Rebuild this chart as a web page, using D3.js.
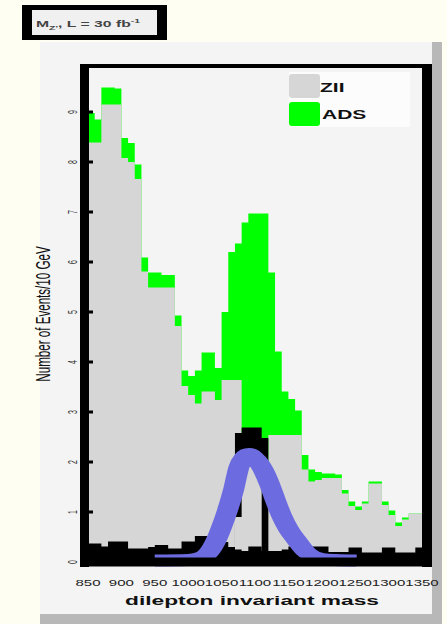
<!DOCTYPE html>
<html>
<head>
<meta charset="utf-8">
<script src="https://cdn.jsdelivr.net/npm/d3@7/dist/d3.min.js"></script>
<style>
  html, body { margin: 0; padding: 0; background: #fffef3; }
  svg { display: block; }
  text { font-family: "Liberation Sans", Arial, Helvetica, sans-serif; }
</style>
</head>
<body>
<svg id="chart" width="447" height="624"></svg>
<script>
// 10 GeV bins from 850 to 1350 GeV (lower edges)
const binEdges = [850, 860, 870, 880, 890, 900, 910, 920, 930, 940,
                  950, 960, 970, 980, 990, 1000, 1010, 1020, 1030, 1040,
                  1050, 1060, 1070, 1080, 1090, 1100, 1110, 1120, 1130, 1140,
                  1150, 1160, 1170, 1180, 1190, 1200, 1210, 1220, 1230, 1240,
                  1250, 1260, 1270, 1280, 1290, 1300, 1310, 1320, 1330, 1340];

// Events per bin, ADS (top of the stack)
const adsValues = [8.98, 8.85, 9.49, 9.49, 9.47, 8.48, 8.38, 7.95, 6.09, 5.79,
                   5.79, 5.74, 5.74, 4.93, 3.83, 3.72, 3.83, 4.19, 4.19, 3.88,
                   5.00, 6.20, 6.37, 6.79, 6.97, 6.97, 6.97, 5.79, 4.21, 3.41,
                   3.26, 3.03, 2.14, 1.85, 1.80, 1.77, 1.77, 1.75, 1.44, 1.21,
                   1.11, 1.21, 1.61, 1.61, 1.21, 1.03, 0.79, 0.89, 0.97, 0.97];

// Events per bin, ZII
const zllValues = [8.39, 8.39, 9.15, 9.15, 9.15, 8.08, 8.00, 7.66, 5.81, 5.49,
                   5.49, 5.49, 5.49, 4.72, 3.52, 3.34, 3.17, 3.41, 3.41, 3.24,
                   3.64, 3.64, 3.64, 2.00, 2.00, 2.00, 2.00, 2.54, 2.54, 2.54,
                   2.54, 2.54, 1.85, 1.61, 1.64, 1.68, 1.68, 1.68, 1.37, 1.12,
                   1.04, 1.17, 1.57, 1.57, 1.14, 0.94, 0.72, 0.85, 0.97, 0.97];

// Events per bin, Standard Model background
const bkgValues = [0.37, 0.37, 0.31, 0.41, 0.41, 0.41, 0.27, 0.27, 0.27, 0.30,
                   0.34, 0.34, 0.27, 0.27, 0.41, 0.41, 0.52, 0.52, 0.52, 0.45,
                   0.40, 0.30, 0.25, 0.22, 0.31, 0.31, 0.22, 0.22, 0.22, 0.25,
                   0.31, 0.31, 0.31, 0.31, 0.31, 0.31, 0.20, 0.20, 0.20, 0.29,
                   0.29, 0.19, 0.19, 0.19, 0.29, 0.29, 0.19, 0.19, 0.19, 0.29];

// Resonance peak: black envelope and the lighter core inside it
const peakValues = [0, 0, 0, 0, 0, 0, 0, 0, 0, 0,
                    0, 0, 0, 0, 0, 0, 0, 0, 0, 0,
                    0, 0, 2.58, 2.69, 2.69, 2.69, 2.48, 0, 0, 0,
                    0, 0, 0, 0, 0, 0, 0, 0, 0, 0,
                    0, 0, 0, 0, 0, 0, 0, 0, 0, 0];
const peakCoreValues = [0, 0, 0, 0, 0, 0, 0, 0, 0, 0,
                        0, 0, 0, 0, 0, 0, 0, 0, 0, 0,
                        0, 0, 0.90, 2.04, 2.04, 2.04, 0, 0, 0, 0,
                        0, 0, 0, 0, 0, 0, 0, 0, 0, 0,
                        0, 0, 0, 0, 0, 0, 0, 0, 0, 0];

// Line shape (mass in GeV, events / 10 GeV)
const lineMass  = [950, 1000, 1018, 1030, 1042, 1050, 1058, 1068, 1076, 1084, 1091,
                   1098, 1105, 1112, 1122, 1131, 1140, 1150, 1163, 1175, 1185, 1200, 1220, 1252];
const lineValue = [0.03, 0.04, 0.08, 0.18, 0.44, 0.70, 1.00, 1.45, 1.90, 2.10, 2.16,
                   2.10, 2.00, 1.85, 1.55, 1.22, 0.92, 0.66, 0.42, 0.22, 0.12, 0.06, 0.04, 0.03];

const xTickValues = [850, 900, 950, 1000, 1050, 1100, 1150, 1200, 1250, 1300, 1350];
const yTickValues = [0, 1, 2, 3, 4, 5, 6, 7, 8, 9];

const legendLabels = ["ZII", "ADS"];
const legendColors = ["#d6d6d6", "#00ff00"];

// Everything in this figure is widened horizontally by the same factor
const SX = 1.75;

const svg = d3.select("#chart");

// page background and panel
svg.append("rect").attr("x", 0).attr("y", 0).attr("width", 447).attr("height", 624).attr("fill", "#fffef3");
svg.append("rect").attr("x", 40).attr("y", 42).attr("width", 392).attr("height", 572).attr("fill", "#f4f4f4");
svg.append("rect").attr("x", 432).attr("y", 42).attr("width", 10).attr("height", 582).attr("fill", "#b8b8b8");
svg.append("rect").attr("x", 40).attr("y", 614).attr("width", 402).attr("height", 10).attr("fill", "#b8b8b8");

// luminosity box
svg.append("rect").attr("x", 22).attr("y", 5).attr("width", 145).attr("height", 35).attr("fill", "#000");
svg.append("rect").attr("x", 32).attr("y", 10).attr("width", 125).attr("height", 25).attr("fill", "#f0f0f0");
const info = svg.append("text")
  .attr("transform", `translate(36,27) scale(${SX},1)`)
  .attr("font-size", 9).attr("font-weight", "bold").attr("fill", "#444");
info.append("tspan").text("M");
info.append("tspan").attr("font-size", 6).attr("dy", 2.5).text("Z'");
info.append("tspan").attr("dy", -2.5).text(", L = 30 fb");
info.append("tspan").attr("font-size", 6).attr("dy", -4).text("-1");

// plot geometry
const pLeft = 88, pRight = 422, pTop = 68, pBottom = 562;
const x = d3.scaleLinear().domain([850, 1350]).range([pLeft, pRight]);
const y = d3.scaleLinear().domain([0, (pBottom - pTop) / 50]).range([pBottom, pTop]);

const clip = svg.append("clipPath").attr("id", "plotclip");
clip.append("rect").attr("x", pLeft).attr("y", pTop).attr("width", pRight - pLeft).attr("height", pBottom - pTop);

const plot = svg.append("g").attr("clip-path", "url(#plotclip)");

function stepArea(values) {
  const pts = binEdges.map((e, i) => [e, values[i]]);
  pts.push([binEdges[binEdges.length - 1] + 10, values[values.length - 1]]);
  return d3.area()
    .x(d => x(d[0]))
    .y0(y(0))
    .y1(d => y(d[1]))
    .curve(d3.curveStepAfter)(pts);
}

plot.append("path").attr("d", stepArea(adsValues)).attr("fill", legendColors[1]);
plot.append("path").attr("d", stepArea(zllValues)).attr("fill", legendColors[0]);
plot.append("path").attr("d", stepArea(peakValues)).attr("fill", "#000");
plot.append("path").attr("d", stepArea(peakCoreValues)).attr("fill", legendColors[0]);
plot.append("path").attr("d", stepArea(bkgValues)).attr("fill", "#000");

// line shape, drawn in the widened frame so its stroke widens the same way
const xs = d3.scaleLinear().domain([850, 1350]).range([pLeft / SX, pRight / SX]);
const lineG = svg.append("g").attr("transform", `scale(${SX},1)`);
lineG.append("path")
  .attr("d", d3.line().x(d => xs(d[0])).y(d => y(d[1])).curve(d3.curveMonotoneX)(lineMass.map((m, i) => [m, lineValue[i]])))
  .attr("fill", "none")
  .attr("stroke", "#6c6ce0")
  .attr("stroke-width", 12)
  .attr("stroke-linecap", "butt");

// frame
svg.append("line").attr("x1", 84.5).attr("x2", 84.5).attr("y1", 64).attr("y2", 567).attr("stroke", "#000").attr("stroke-width", 9);
svg.append("line").attr("x1", 427).attr("x2", 427).attr("y1", 64).attr("y2", 567).attr("stroke", "#000").attr("stroke-width", 10);
svg.append("line").attr("x1", 80).attr("x2", 432).attr("y1", 66).attr("y2", 66).attr("stroke", "#000").attr("stroke-width", 4);
svg.append("line").attr("x1", 80).attr("x2", 432).attr("y1", 562).attr("y2", 562).attr("stroke", "#000").attr("stroke-width", 9);

// y ticks
svg.append("g").selectAll("line").data(yTickValues).join("line")
  .attr("x1", 80).attr("x2", 93).attr("y1", d => y(d)).attr("y2", d => y(d))
  .attr("stroke", "#000").attr("stroke-width", 3);
svg.append("g").selectAll("text").data(yTickValues).join("text")
  .attr("transform", d => `translate(77,${y(d)}) scale(${SX},1) rotate(-90)`)
  .attr("text-anchor", "middle")
  .attr("font-size", 7).attr("fill", "#333")
  .text(d => d);

// x tick labels
svg.append("g").selectAll("text").data(xTickValues).join("text")
  .attr("transform", d => `translate(${x(d)},586) scale(${SX},1)`)
  .attr("text-anchor", "middle")
  .attr("font-size", 8.6).attr("fill", "#222")
  .text(d => d);

// axis titles
svg.append("text")
  .attr("transform", `translate(252,605) scale(${SX},1)`)
  .attr("text-anchor", "middle")
  .attr("font-size", 13).attr("font-weight", "bold").attr("fill", "#111")
  .text("dilepton invariant mass");
svg.append("text")
  .attr("transform", `translate(50,314) scale(${SX},1) rotate(-90)`)
  .attr("text-anchor", "middle")
  .attr("font-size", 11.6).attr("fill", "#111")
  .text("Number of Events/10 GeV");

// legend
const legend = svg.append("g");
legend.append("rect").attr("x", 289).attr("y", 72).attr("width", 121).attr("height", 55).attr("fill", "#fcfcfc");
legend.selectAll("rect.sw").data(legendLabels).join("rect").attr("class", "sw")
  .attr("x", 289).attr("y", (d, i) => 74 + i * 28).attr("width", 31).attr("height", 24)
  .attr("rx", 3).attr("fill", (d, i) => legendColors[i]);
legend.selectAll("text").data(legendLabels).join("text")
  .attr("transform", (d, i) => `translate(${320 + i * 2},${92 + i * 26.5}) scale(${SX},1)`)
  .attr("font-size", 12).attr("font-weight", "bold").attr("fill", "#111")
  .text(d => d);
</script>
</body>
</html>
